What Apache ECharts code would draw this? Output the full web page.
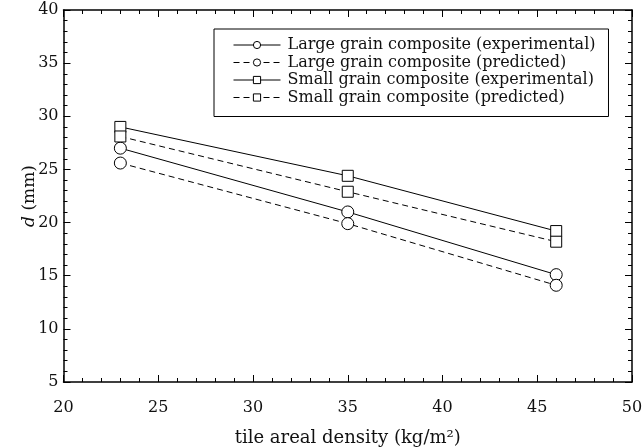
<!DOCTYPE html>
<html>
<head>
<meta charset="utf-8">
<script src="https://cdn.jsdelivr.net/npm/echarts@6/dist/echarts.min.js"></script>
<style>
  html, body { margin: 0; padding: 0; background: #fff; }
  #chart { width: 644px; height: 448px; }
</style>
</head>
<body>
<div id="chart"></div>
<script>
// tile areal density (kg/m2)
var density = [23, 35, 46]

// d (mm)
var largeExp = [27.0, 21.0, 15.1]
var largePred = [25.6, 19.9, 14.1]
var smallExp = [29.0, 24.4, 19.2]
var smallPred = [28.1, 22.9, 18.2]

var seriesNames = [
    'Large grain composite (experimental)',
    'Large grain composite (predicted)',
    'Small grain composite (experimental)',
    'Small grain composite (predicted)'
]

var FONT = 'DejaVu Serif'

function pairs(ys) {
    return density.map(function (x, i) { return [x, ys[i]] })
}

function makeSeries(name, ys, symbol, dashed) {
    return {
        name: name,
        type: 'line',
        data: pairs(ys),
        symbol: symbol,
        symbolSize: symbol === 'rect' ? 11 : 12,
        showAllSymbol: true,
        lineStyle: { color: '#000', width: 1, type: dashed ? [6, 4] : 'solid' },
        itemStyle: { color: '#fff', borderColor: '#000', borderWidth: 1 },
        emphasis: { disabled: true },
        z: 3
    }
}

// axis shared bits - ticks point inward on all four sides
function tickAxis(extra) {
    var base = {
        type: 'value',
        interval: 5,
        splitLine: { show: false },
        axisLine: { show: true, onZero: false, lineStyle: { color: '#000', width: 1.5 } },
        axisTick: { show: true, inside: true, length: 7, lineStyle: { color: '#000', width: 1 } },
        minorTick: { show: true, splitNumber: 5, length: 4, lineStyle: { color: '#000', width: 1 } },
        minorSplitLine: { show: false }
    }
    for (var k in extra) base[k] = extra[k]
    return base
}

var chart = echarts.init(document.getElementById('chart'), null, { renderer: 'canvas' })

var option = {
    animation: false,
    backgroundColor: '#fff',
    textStyle: { fontFamily: FONT },
    grid: { left: 63.5, right: 12, top: 10, bottom: 66, containLabel: false, outerBoundsMode: 'none' },
    legend: {
        data: seriesNames,
        orient: 'vertical',
        left: 214,
        top: 29,
        itemWidth: 47,
        itemHeight: 9,
        itemGap: 1.5,
        padding: [8, 13, 11, 19],
        borderColor: '#000',
        borderWidth: 1,
        backgroundColor: '#fff',
        selectedMode: false,
        lineStyle: { width: 1 },
        itemStyle: { borderWidth: 1 },
        textStyle: { fontFamily: FONT, fontSize: 16, color: '#111', padding: [0, 0, 0, 2] }
    },
    xAxis: [
        tickAxis({
            min: 20, max: 50, position: 'bottom',
            name: 'tile areal density (kg/m\u00b2)',
            nameLocation: 'middle',
            nameGap: 47,
            nameTextStyle: { fontFamily: FONT, fontSize: 18, color: '#111' },
            axisLabel: { margin: 18, fontFamily: FONT, fontSize: 16, color: '#111' }
        }),
        tickAxis({ min: 20, max: 50, position: 'top', axisLabel: { show: false } })
    ],
    yAxis: [
        tickAxis({
            min: 5, max: 40, position: 'left',
            name: '{i|d} (mm)',
            nameLocation: 'middle',
            nameGap: 25,
            nameMoveOverlap: false,
            nameRotate: 90,
            nameTextStyle: {
                fontFamily: FONT, fontSize: 17, color: '#111',
                rich: { i: { fontFamily: FONT, fontSize: 17, fontStyle: 'italic', color: '#111' } }
            },
            axisLabel: { margin: 5, fontFamily: FONT, fontSize: 16, color: '#111' }
        }),
        tickAxis({ min: 5, max: 40, position: 'right', axisLabel: { show: false } })
    ],
    series: [
        makeSeries(seriesNames[0], largeExp, 'circle', false),
        makeSeries(seriesNames[1], largePred, 'circle', true),
        makeSeries(seriesNames[2], smallExp, 'rect', false),
        makeSeries(seriesNames[3], smallPred, 'rect', true)
    ]
}

chart.setOption(option)
</script>
</body>
</html>
